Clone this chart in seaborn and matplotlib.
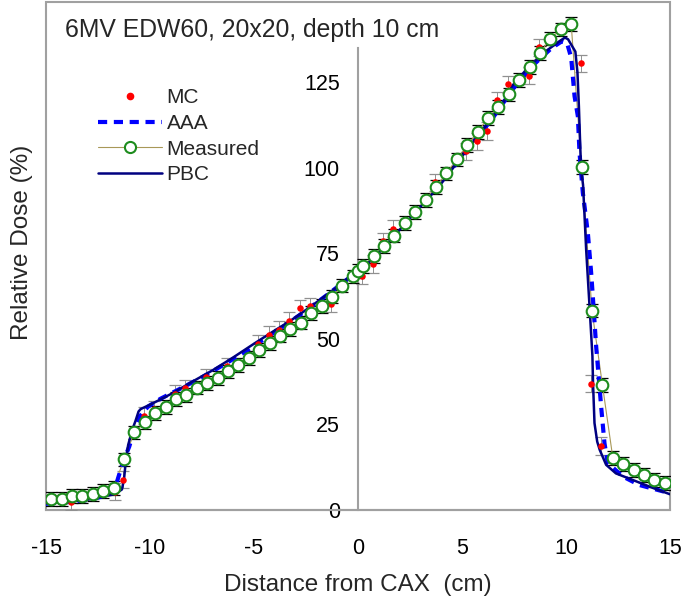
import matplotlib
matplotlib.use('Agg')
import matplotlib.pyplot as plt
import seaborn as sns
from matplotlib.lines import Line2D
from matplotlib.patches import Rectangle

# measured profile (green circles)
MEAS_X = [-14.75, -14.25, -13.75, -13.25, -12.75, -12.25, -11.75, -11.25,
          -10.75, -10.25, -9.75, -9.25, -8.75, -8.25, -7.75, -7.25, -6.75,
          -6.25, -5.75, -5.25, -4.75, -4.25, -3.75, -3.25, -2.75, -2.25,
          -1.75, -1.25, -0.75, -0.25, 0.0, 0.25, 0.75, 1.25, 1.75, 2.25,
          2.75, 3.25, 3.75, 4.25, 4.75, 5.25, 5.75, 6.25, 6.75, 7.25, 7.75,
          8.25, 8.75, 9.25, 9.75, 10.25, 10.75, 11.25, 11.75, 12.25, 12.75,
          13.25, 13.75, 14.25, 14.75]
MEAS_Y = [3.2, 3.2, 4.1, 4.1, 4.6, 5.6, 6.5, 14.8,
          22.7, 25.6, 28.3, 30.2, 32.5, 33.7, 35.8, 37.1, 38.5,
          40.5, 42.3, 44.5, 46.8, 48.8, 51.0, 52.9, 54.8, 57.6,
          59.7, 62.4, 65.6, 68.3, 69.8, 71.4, 74.2, 77.1, 80.2, 83.9,
          87.1, 90.7, 94.5, 98.4, 102.5, 106.6, 110.5, 114.6, 117.8, 121.5, 125.7,
          129.4, 133.6, 137.8, 140.5, 142.0, 100.3, 58.3, 36.6, 15.3, 13.5,
          11.7, 10.2, 8.8, 7.8]
MEAS_ERR = 2.0

# Monte Carlo (red dots)
MC_X = [-13.8, -11.7, -11.3, -10.3, -9.8, -8.8, -8.3, -7.3, -6.3, -4.8, -4.3,
        -3.8, -3.3, -2.8, -2.3, -1.3, 0.2, 0.7, 1.2, 1.7, 3.7, 5.2, 5.7,
        6.2, 6.7, 7.2, 8.2, 8.7, 10.7, 11.2, 11.7]
MC_Y = [2.4, 5.4, 8.8, 27.5, 29.5, 34.0, 35.6, 38.8, 42.0, 48.6, 51.2,
        52.7, 55.3, 59.0, 59.5, 60.3, 68.5, 71.9, 78.5, 82.2, 95.8, 104.9, 107.8,
        110.8, 119.8, 124.4, 127.0, 135.2, 130.6, 36.9, 18.7]
MC_ERR = 2.5

# AAA calculation (blue dashed)
AAA_X = [-15.0, -14.0, -13.0, -12.5, -12.0, -11.7, -11.5, -11.3, -11.0, -10.75,
         -10.5, -10.1, -9.5, -8.5, -7.5, -6.5, -5.5, -4.5, -3.5, -2.5, -1.5,
         -0.5, 0.5, 1.5, 2.5, 3.5, 4.5, 5.5, 6.5, 7.5, 8.5, 9.3, 9.8, 10.05,
         10.25, 10.41, 10.57, 10.65, 10.81, 11.05, 11.21, 11.29, 11.45, 11.53,
         11.69, 11.85, 12.01, 12.73, 13.53, 15.0]
AAA_Y = [1.8, 2.3, 2.9, 3.6, 4.6, 6.0, 10.0, 14.0, 18.5, 23.5,
         27.3, 30.2, 32.5, 35.6, 38.8, 42.3, 46.0, 50.0, 54.0, 58.3, 62.8,
         67.5, 72.0, 78.3, 85.2, 92.2, 99.5, 107.0, 114.8, 123.5, 130.5, 135.0, 137.0, 136.5,
         132.2, 121.0, 115.1, 104.4, 92.7, 81.0, 69.3, 62.4, 47.8, 42.0,
         30.2, 19.5, 13.7, 9.8, 7.3, 4.9]

# pencil beam convolution (navy solid)
PBC_X = [-15.0, -14.0, -13.0, -12.2, -11.7, -11.35, -11.25, -11.15, -11.05,
         -10.85, -10.7, -10.55, -10.45, -10.0, -9.5, -8.9, -8.0, -7.0, -6.0,
         -4.9, -4.0, -3.3, -2.5, -1.7, -1.0, -0.1, 0.7, 1.5, 2.3, 3.1, 3.9,
         4.7, 5.5, 6.3, 7.0, 7.4, 8.2, 9.05, 9.7, 9.95, 10.1, 10.45, 10.55,
         10.62, 10.72, 10.82, 10.97, 11.16, 11.27, 11.3, 11.37, 11.5, 11.62,
         11.93, 12.4, 13.2, 14.2, 15.0]
PBC_Y = [2.0, 2.4, 3.0, 4.0, 4.6, 6.0, 9.0, 15.0, 19.0,
         23.5, 26.0, 28.8, 29.5, 30.8, 32.3, 34.2, 37.4, 40.8, 44.6,
         49.0, 52.5, 55.1, 58.5, 62.0, 65.2, 69.7, 73.2, 78.5, 83.9, 89.3, 94.6,
         101.0, 107.3, 113.5, 119.3, 123.9, 129.5, 134.2, 137.1, 138.1, 137.6, 134.0, 128.0,
         118.0, 100.0, 95.0, 76.0, 56.6, 45.0, 37.0, 25.4, 20.0, 17.6,
         13.2, 10.7, 8.8, 6.4, 4.6]

Y_TICKS = [0, 25, 50, 75, 100, 125]
X_TICKS = [-15, -10, -5, 0, 5, 10, 15]

TITLE = '6MV EDW60, 20x20, depth 10 cm'

sns.set_style('white')
plt.rcParams['font.family'] = ['Liberation Sans', 'DejaVu Sans']

GRAY = '#a0a0a0'
OLIVE = '#a89858'
GREEN = '#1e8c1e'

fig = plt.figure(figsize=(6.85, 6.11), dpi=100)
ax = fig.add_axes([46 / 685, 101 / 611, 624 / 685, 508 / 611])

# error bars first so markers sit on top
ax.errorbar(MC_X, MC_Y, yerr=MC_ERR, fmt='none', ecolor='#909090',
            elinewidth=0.7, capsize=4, capthick=0.9, zorder=2)
ax.errorbar(MEAS_X, MEAS_Y, yerr=MEAS_ERR, fmt='none', ecolor='black',
            elinewidth=0.7, capsize=4, capthick=0.9, zorder=2)

sns.lineplot(x=MEAS_X, y=MEAS_Y, color=OLIVE, linewidth=0.8, ax=ax,
             sort=False, zorder=3)
sns.lineplot(x=AAA_X, y=AAA_Y, color='#0000ff', linewidth=3.0,
             linestyle=(0, (2.2, 1.6)), ax=ax, sort=False, zorder=4)
sns.lineplot(x=PBC_X, y=PBC_Y, color='#000080', linewidth=1.8, ax=ax,
             sort=False, zorder=5)
sns.scatterplot(x=MC_X, y=MC_Y, color='red', s=22, linewidth=0, ax=ax,
                zorder=6)
sns.scatterplot(x=MEAS_X, y=MEAS_Y, facecolor='white', edgecolor=GREEN,
                s=70, linewidth=1.5, ax=ax, zorder=7)

ax.set_xlim(-15, 15)
ax.set_ylim(0, 148.5)

# y axis through the origin, Excel style
ax.spines['left'].set_position(('data', 0))
ax.spines['left'].set_bounds(0, 135)
ax.spines['left'].set_color(GRAY)
ax.spines['left'].set_linewidth(1.5)
ax.spines['left'].set_zorder(1)
ax.spines['bottom'].set_color(GRAY)
ax.spines['bottom'].set_linewidth(1.5)
ax.spines['bottom'].set_zorder(1)
ax.spines['top'].set_visible(False)
ax.spines['right'].set_visible(False)
ax.add_patch(Rectangle((0, 0), 1, 1, transform=ax.transAxes, fill=False,
                       edgecolor=GRAY, linewidth=1.5, clip_on=False, zorder=1))

ax.set_xticks(X_TICKS)
ax.set_yticks(Y_TICKS)
ax.set_xticklabels([str(t) for t in X_TICKS])
ax.set_yticklabels([str(t) for t in Y_TICKS])
ax.tick_params(axis='x', direction='out', length=5, width=1.2, colors=GRAY,
               labelcolor='black', labelsize=15.5, pad=15)
ax.tick_params(axis='y', direction='out', length=5, width=1.0, colors='#202020',
               labelcolor='black', labelsize=15.5, pad=8)
ax.set_xlabel('')
ax.set_ylabel('')

ax.text(0.030, 0.944, TITLE, transform=ax.transAxes, fontsize=17.8,
        ha='left', va='center')

handles = [
    Line2D([], [], color='red', marker='o', markersize=4.5, linestyle='none'),
    Line2D([], [], color='#0000ff', linewidth=3.0, linestyle=(0, (2.2, 1.6))),
    Line2D([], [], color=OLIVE, linewidth=0.8, marker='o', markersize=8,
           markerfacecolor='white', markeredgecolor=GREEN, markeredgewidth=1.5),
    Line2D([], [], color='#000080', linewidth=1.8),
]
ax.legend(handles, ['MC', 'AAA', 'Measured', 'PBC'], loc='upper left',
          bbox_to_anchor=(0.083, 0.830), frameon=False, fontsize=15,
          handlelength=3.1, handletextpad=0.2, labelspacing=0.32,
          borderpad=0, borderaxespad=0, numpoints=1)

fig.text(358 / 685, 1 - 585 / 611, 'Distance from CAX  (cm)', fontsize=17.5,
         ha='center', va='center')
fig.text(22 / 685, 1 - 242 / 611, 'Relative Dose (%)', fontsize=17.5,
         rotation=90, ha='center', va='center')

fig.savefig('out.png', dpi=100)
